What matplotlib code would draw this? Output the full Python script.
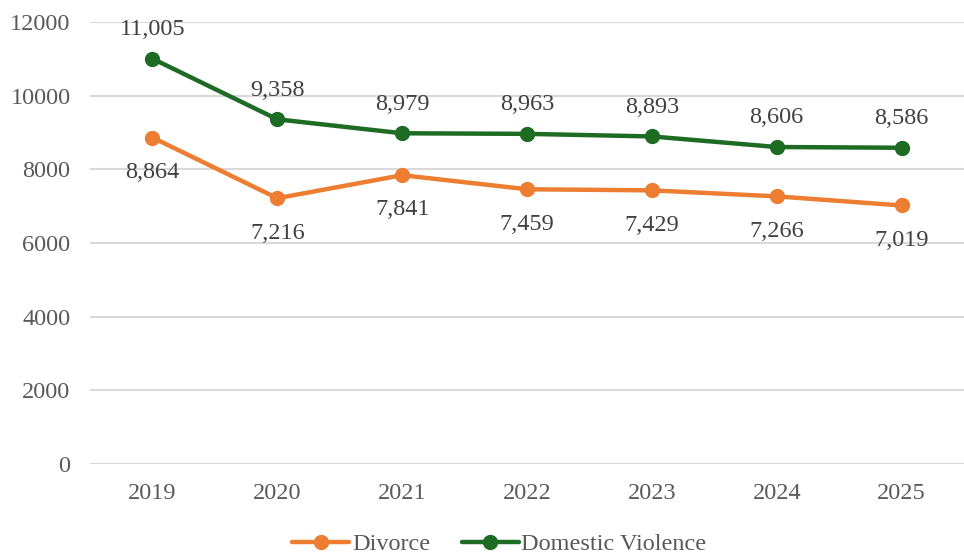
import matplotlib
matplotlib.use("Agg")
import matplotlib.pyplot as plt

years = ["2019", "2020", "2021", "2022", "2023", "2024", "2025"]
divorce = [8864, 7216, 7841, 7459, 7429, 7266, 7019]
domestic = [11005, 9358, 8979, 8963, 8893, 8606, 8586]
yticks = [0, 2000, 4000, 6000, 8000, 10000, 12000]

plt.rcParams['font.family'] = ['Liberation Serif', 'DejaVu Serif']
txt = '#595959'
orange = '#ED7D31'
green = '#1E6B24'
fs = 17.5

fig = plt.figure(figsize=(9.64, 5.56), dpi=100)
ax = fig.add_axes([90/964, 1-464/556, 1-90/964, (464-22)/556])

x = list(range(len(years)))
ax.plot(x, divorce, color=orange, lw=3.2, marker='o', ms=10, label='Divorce', solid_capstyle='round', zorder=3)
ax.plot(x, domestic, color=green, lw=3.2, marker='o', ms=10, label='Domestic Violence', solid_capstyle='round', zorder=3)

for xi, v in zip(x, divorce):
    ax.annotate(f"{v:,}", (xi, v), xytext=(0, -17.5), textcoords='offset points',
                ha='center', va='top', fontsize=fs, color='#404040')
for xi, v in zip(x, domestic):
    ax.annotate(f"{v:,}", (xi, v), xytext=(0, 13.5), textcoords='offset points',
                ha='center', va='bottom', fontsize=fs, color='#404040')

ax.set_xlim(-0.5, len(years) - 0.5)
ax.set_ylim(0, 12000)
ax.set_yticks(yticks)
ax.set_yticklabels([str(t) for t in yticks])
ax.set_xticks(x)
ax.set_xticklabels(years)
ax.tick_params(axis='both', length=0, labelsize=fs, labelcolor=txt)
ax.tick_params(axis='y', pad=14)
ax.tick_params(axis='x', pad=14)
ax.grid(axis='y', color='#D9D9D9', lw=1.5)
ax.set_axisbelow(True)
for s in ax.spines.values():
    s.set_visible(False)

leg = fig.legend(loc='center', bbox_to_anchor=(0.518, 1 - 544/556), ncol=2, frameon=False,
                 fontsize=fs, handlelength=2.35, columnspacing=1.3, handletextpad=0.1)
for t in leg.get_texts():
    t.set_color(txt)

fig.savefig('out.png', dpi=100)
